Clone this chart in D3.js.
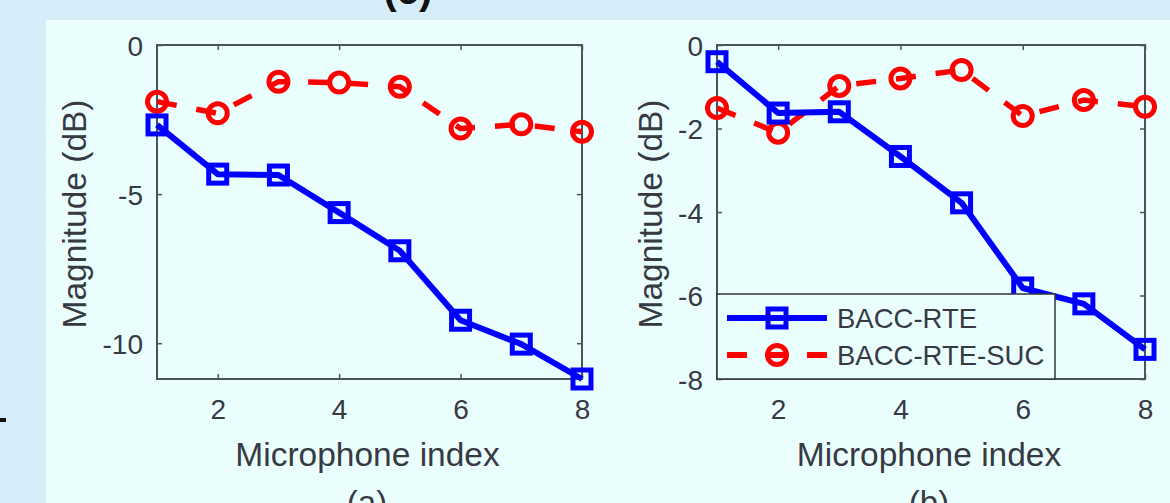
<!DOCTYPE html>
<html>
<head>
<meta charset="utf-8">
<script src="https://cdn.jsdelivr.net/npm/d3@7"></script>
<style>
  body { margin: 0; background: #d4edf9; }
  svg { display: block; }
  text { font-family: "Liberation Sans", Arial, Helvetica, sans-serif; }
</style>
</head>
<body>
<svg id="fig" width="1170" height="503"></svg>
<script>
// values
var micIndex = [1, 2, 3, 4, 5, 6, 7, 8];
var rteA = [-2.68, -4.33, -4.36, -5.62, -6.9, -9.23, -10.03, -11.2];
var sucA = [-1.9, -2.29, -1.23, -1.26, -1.4, -2.8, -2.66, -2.91];
var rteB = [-0.4, -1.63, -1.6, -2.67, -3.78, -5.82, -6.2, -7.29];
var sucB = [-1.51, -2.1, -0.98, -0.8, -0.6, -1.7, -1.32, -1.48];
var seriesNames = ["BACC-RTE", "BACC-RTE-SUC"];
var xTicks = [2, 4, 6, 8];
var yTicksA = [0, -5, -10];
var yTicksB = [0, -2, -4, -6, -8];
var captions = ["(a)", "(b)"];

var W = 1170, H = 503;
var bg = "#d4edf9", panelBg = "#ebfefe";
var axisCol = "#4b5262", textCol = "#363a42";
var blue = "#0000ff", red = "#ff0000";

var svg = d3.select("#fig");

// light backdrop of the slide
svg.append("rect").attr("width", W).attr("height", H).attr("fill", bg);
svg.append("rect").attr("x", 46).attr("y", 20).attr("width", W - 46).attr("height", H - 20).attr("fill", panelBg);

// cut off caption of the row above and the little dash at the left
svg.append("text").attr("x", 408).attr("y", 4).attr("text-anchor", "middle")
	.attr("font-size", 40).attr("font-weight", "bold").attr("fill", "#111").text("(c)");
svg.append("rect").attr("x", 0).attr("y", 418).attr("width", 6).attr("height", 4).attr("fill", "#111");

function drawPanel(opt) {
	var x = d3.scaleLinear().domain([1, 8]).range([opt.left, opt.right]);
	var y = d3.scaleLinear().domain(opt.yDomain).range([opt.bottom, opt.top]);
	var g = svg.append("g");
	var fmt = function (d) { return String(d).replace("\u2212", "-"); };

	// axes with inward ticks, MATLAB style
	var bottom = g.append("g").attr("transform", "translate(0," + opt.bottom + ")")
		.call(d3.axisBottom(x).tickValues(xTicks).tickSizeInner(-5).tickSizeOuter(0).tickPadding(20).tickFormat(fmt));
	var top = g.append("g").attr("transform", "translate(0," + opt.top + ")")
		.call(d3.axisTop(x).tickValues(xTicks).tickSizeInner(-5).tickSizeOuter(0).tickFormat(""));
	var left = g.append("g").attr("transform", "translate(" + opt.left + ",0)")
		.call(d3.axisLeft(y).tickValues(opt.yTicks).tickSizeInner(-5).tickSizeOuter(0).tickPadding(14).tickFormat(fmt));
	var right = g.append("g").attr("transform", "translate(" + opt.right + ",0)")
		.call(d3.axisRight(y).tickValues(opt.yTicks).tickSizeInner(-5).tickSizeOuter(0).tickFormat(""));

	[bottom, top, left, right].forEach(function (a) {
		a.select(".domain").remove();
		a.selectAll(".tick line").attr("stroke", axisCol).attr("stroke-width", 1.5);
		a.selectAll(".tick text").attr("fill", textCol).attr("font-size", 28)
			.attr("font-family", "Liberation Sans, Arial, sans-serif");
	});
	left.selectAll(".tick text").attr("dy", "0.36em");

	g.append("rect").attr("x", opt.left).attr("y", opt.top)
		.attr("width", opt.right - opt.left).attr("height", opt.bottom - opt.top)
		.attr("fill", "none").attr("stroke", axisCol).attr("stroke-width", 2);

	// labels
	g.append("text").attr("x", (opt.left + opt.right) / 2 - 2).attr("y", 466)
		.attr("text-anchor", "middle").attr("font-size", 33.5).attr("fill", textCol)
		.text("Microphone index");
	g.append("text").attr("transform", "translate(" + opt.yLabelX + ",214) rotate(-90)")
		.attr("text-anchor", "middle").attr("font-size", 33.5).attr("fill", textCol)
		.text("Magnitude (dB)");
	g.append("text").attr("x", opt.capX).attr("y", 514)
		.attr("text-anchor", "middle").attr("font-size", 33).attr("fill", textCol)
		.text(opt.caption);

	var line = d3.line().x(function (d) { return x(d[0]); }).y(function (d) { return y(d[1]); });

	var suc = d3.zip(micIndex, opt.suc);
	var rte = d3.zip(micIndex, opt.rte);

	g.append("path").datum(suc).attr("d", line).attr("fill", "none")
		.attr("stroke", red).attr("stroke-width", 5.5).attr("stroke-dasharray", "20 20");
	g.selectAll(".suc").data(suc).enter().append("circle")
		.attr("cx", function (d) { return x(d[0]); }).attr("cy", function (d) { return y(d[1]); })
		.attr("r", 9.5).attr("fill", "none").attr("stroke", red).attr("stroke-width", 5);

	g.append("path").datum(rte).attr("d", line).attr("fill", "none")
		.attr("stroke", blue).attr("stroke-width", 6).attr("stroke-linejoin", "round");
	g.selectAll(".rte").data(rte).enter().append("rect")
		.attr("x", function (d) { return x(d[0]) - 9; }).attr("y", function (d) { return y(d[1]) - 9; })
		.attr("width", 18).attr("height", 18).attr("fill", "none").attr("stroke", blue).attr("stroke-width", 5);

	if (opt.legend) {
		var lg = g.append("g");
		lg.append("rect").attr("x", opt.left).attr("y", 294).attr("width", 1055 - opt.left).attr("height", opt.bottom - 294)
			.attr("fill", panelBg).attr("stroke", "#30343c").attr("stroke-width", 1.5);
		var rows = [
			{ name: seriesNames[0], y: 318, col: blue, dash: null, mark: "square" },
			{ name: seriesNames[1], y: 355, col: red, dash: "20 20", mark: "circle" }
		];
		rows.forEach(function (r) {
			lg.append("line").attr("x1", 727).attr("x2", 827).attr("y1", r.y).attr("y2", r.y)
				.attr("stroke", r.col).attr("stroke-width", 6).attr("stroke-dasharray", r.dash);
			if (r.mark == "square") {
				lg.append("rect").attr("x", 777 - 9).attr("y", r.y - 9).attr("width", 18).attr("height", 18)
					.attr("fill", "none").attr("stroke", r.col).attr("stroke-width", 5);
			} else {
				lg.append("circle").attr("cx", 777).attr("cy", r.y).attr("r", 9.5)
					.attr("fill", "none").attr("stroke", r.col).attr("stroke-width", 5);
			}
			lg.append("text").attr("x", 837).attr("y", r.y + 10).attr("font-size", 27.5)
				.attr("fill", textCol).text(r.name);
		});
	}
}

drawPanel({ left: 157, right: 582, top: 45, bottom: 379, yDomain: [-11.2, 0], yTicks: yTicksA,
	rte: rteA, suc: sucA, yLabelX: 86, capX: 367, caption: captions[0], legend: false });
drawPanel({ left: 717, right: 1145, top: 45, bottom: 379, yDomain: [-8, 0], yTicks: yTicksB,
	rte: rteB, suc: sucB, yLabelX: 662, capX: 929, caption: captions[1], legend: true });
</script>
</body>
</html>
